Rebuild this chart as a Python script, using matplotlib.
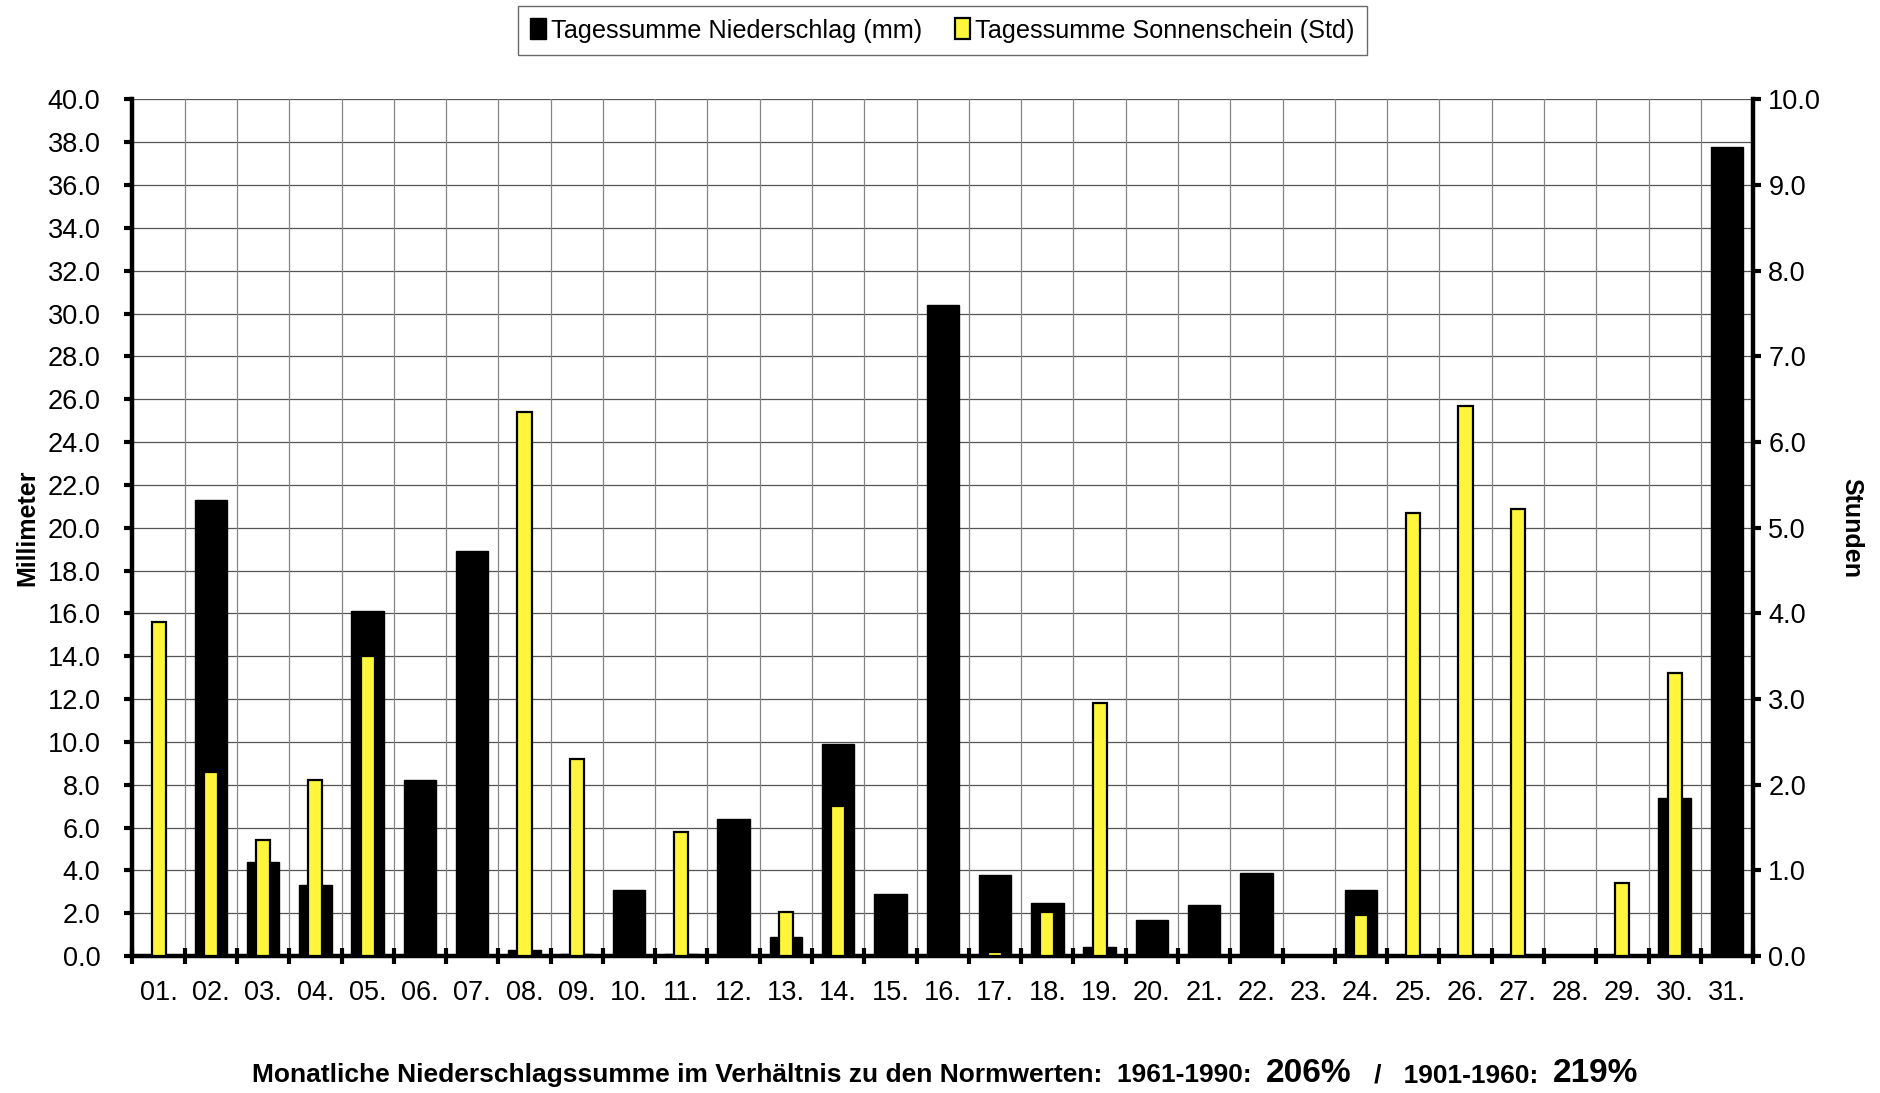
import matplotlib
matplotlib.use("Agg")
import matplotlib.pyplot as plt
import numpy as np
from matplotlib import font_manager

days = [f"{d:02d}." for d in range(1, 32)]
niederschlag = [0.0, 21.3, 4.4, 3.3, 16.1, 8.2, 18.9, 0.3, 0.1, 3.1,
                0.1, 6.4, 0.9, 9.9, 2.9, 30.4, 3.8, 2.5, 0.4, 1.7,
                2.4, 3.9, 0.0, 3.1, 0.0, 0.0, 0.0, 0.0, 0.0, 7.4, 37.8]
sonnenschein = [3.9, 2.15, 1.35, 2.05, 3.5, 0.0, 0.0, 6.35, 2.3, 0.0,
                1.45, 0.0, 0.52, 1.75, 0.0, 0.0, 0.05, 0.52, 2.95, 0.0,
                0.0, 0.0, 0.0, 0.48, 5.17, 6.42, 5.22, 0.0, 0.85, 3.3, 0.0]
legend_labels = ["Tagessumme Niederschlag (mm)", "Tagessumme Sonnenschein (Std)"]
left_ticks = np.arange(0, 40.1, 2.0)
right_ticks = np.arange(0, 10.1, 1.0)

names = {f.name for f in font_manager.fontManager.ttflist}
narrow = "Liberation Sans Narrow" if "Liberation Sans Narrow" in names else "Liberation Sans"
plt.rcParams['font.family'] = ['Liberation Sans', 'DejaVu Sans']

fig = plt.figure(figsize=(18.81, 10.93), dpi=100)
ax = fig.add_axes([0.0704, 0.1253, 0.8616, 0.7837])
ax2 = ax.twinx()

x = np.arange(len(days))
ax.set_xlim(-0.5, len(days) - 0.5)
ax.set_ylim(0, 40)
ax2.set_ylim(0, 10)

# grid
for yv in left_ticks:
    ax.axhline(yv, color='#555555', lw=0.9, zorder=0)
for xv in np.arange(-0.5, len(days), 1.0):
    ax.axvline(xv, color='#858585', lw=0.9, zorder=0)

ax.bar(x, niederschlag, width=0.62, color='black', edgecolor='black', lw=1.0, zorder=2,
       label=legend_labels[0])
ax2.bar(x, sonnenschein, width=0.27, color='#FFF53A', edgecolor='black', lw=1.6, zorder=3,
        label=legend_labels[1])

for a in (ax, ax2):
    a.spines['top'].set_visible(False)
ax.spines['left'].set_linewidth(3.2)
ax.spines['bottom'].set_linewidth(3.2)
ax.spines['right'].set_visible(False)
ax2.spines['left'].set_visible(False)
ax2.spines['bottom'].set_visible(False)
ax2.spines['right'].set_linewidth(3.2)
ax2.patch.set_visible(False)

ax.set_yticks(left_ticks)
ax.set_yticklabels([f"{v:.1f}" for v in left_ticks], fontsize=19.5)
ax.tick_params(axis='y', which='major', length=6, width=3, direction='out', pad=17)
ax2.set_yticks(right_ticks)
ax2.set_yticklabels([f"{v:.1f}" for v in right_ticks], fontsize=19.5)
ax2.tick_params(axis='y', which='major', length=6, width=3, direction='out', pad=5)

ax.set_xticks(x)
ax.set_xticklabels(days, fontsize=19.5)
ax.tick_params(axis='x', which='major', length=0, pad=17)
ax.set_xticks(np.arange(-0.5, len(days), 1.0), minor=True)
ax.tick_params(axis='x', which='minor', length=12, width=3, direction='inout')

ax.set_ylabel("Millimeter", fontsize=18, fontweight='bold', labelpad=6)
ax2.set_ylabel("Stunden", fontsize=18, fontweight='bold', rotation=270, labelpad=30)

h1, l1 = ax.get_legend_handles_labels()
h2, l2 = ax2.get_legend_handles_labels()
leg = fig.legend(h1 + h2, l1 + l2, loc='center', bbox_to_anchor=(0.501, 0.972), ncol=2,
                 frameon=True, fancybox=False, edgecolor='#444444', handlelength=0.6,
                 handleheight=0.9, handletextpad=0.2, columnspacing=1.3,
                 prop={'family': [narrow, 'DejaVu Sans'], 'size': 18.2}, borderpad=0.5)
leg.get_frame().set_linewidth(1.0)

# bottom text with mixed sizes
parts = [("Monatliche Niederschlagssumme im Verhältnis zu den Normwerten:  1961-1990:  ", 19),
         ("206%", 24), ("   /   1901-1960:  ", 19), ("219%", 24)]
renderer = fig.canvas.get_renderer()
texts = []
widths = []
for s, size in parts:
    t = fig.text(0, 0.010, s, fontsize=size, fontweight='bold',
                 family=[narrow, 'DejaVu Sans'], va='baseline', ha='left')
    bb = t.get_window_extent(renderer=renderer)
    texts.append(t)
    widths.append(bb.width)
total = sum(widths)
start = (945 - total / 2)
cur = start
for t, w in zip(texts, widths):
    t.set_x(cur / fig.bbox.width)
    cur += w

fig.savefig("out.png", dpi=100)
